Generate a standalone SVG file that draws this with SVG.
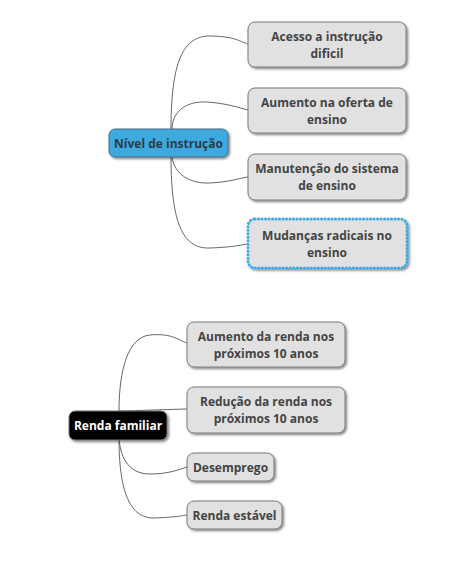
<svg xmlns="http://www.w3.org/2000/svg" width="457" height="581" viewBox="0 0 457 581">
<defs>
<filter id="sh" x="-10%" y="-20%" width="130%" height="160%">
<feDropShadow dx="1.5" dy="1.5" stdDeviation="1.2" flood-color="#000" flood-opacity="0.5"/>
</filter>
<style>
.n{fill:#e1e1e1;stroke:#7a7a7a;stroke-width:1;filter:url(#sh)}
.t{font-family:"Open Sans","Noto Sans","DejaVu Sans",sans-serif;font-weight:bold;font-size:12px;fill:#444;text-anchor:middle}
.c{fill:none;stroke:#666;stroke-width:1}
</style>
</defs>
<rect width="457" height="581" fill="#fff"/>
<g id="connectors">
<path class="c" d="M171,129 C171,55 186,35 212,36 S240,42 248,44"/>
<path class="c" d="M172,129 C172,112 186,101 206,102 S240,108 248,110"/>
<path class="c" d="M172,157 C174,174 190,184 210,183 S240,178 248,177"/>
<path class="c" d="M171,157 C171,228 185,249 210,248 S240,245 248,244"/>
<path class="c" d="M119,411 C119,370 128,337 150,335 S178,340 187,343"/>
<path class="c" d="M119,411 C130,411 150,410 187,409"/>
<path class="c" d="M119,439 C121,460 130,474 150,474 S180,469 187,467"/>
<path class="c" d="M119,439 C119,498 133,519 155,518 S180,516 187,515"/>
</g>
<g id="nivel">
<rect x="109" y="129" width="119" height="28" rx="6" fill="#3da9de" stroke="#4a6f85" stroke-width="1" filter="url(#sh)"/>
<text class="t" x="168.5" y="147.5" style="fill:#2f3b44">Nível de instrução</text>
</g>
<g id="acesso">
<rect class="n" x="248" y="22" width="158" height="45" rx="7"/>
<text class="t" x="327" y="41">Acesso a instrução</text>
<text class="t" x="327" y="58">dificil</text>
</g>
<g id="aumento-oferta">
<rect class="n" x="248" y="88" width="158" height="45" rx="7"/>
<text class="t" x="327" y="107">Aumento na oferta de</text>
<text class="t" x="327" y="124">ensino</text>
</g>
<g id="manutencao">
<rect class="n" x="248" y="154" width="158" height="46" rx="7"/>
<text class="t" x="327" y="173">Manutenção do sistema</text>
<text class="t" x="327" y="190">de ensino</text>
</g>
<g id="mudancas">
<rect x="248" y="219" width="159" height="49" rx="7" fill="#e1e1e1" stroke="#3ea9e6" stroke-width="3" stroke-dasharray="0.1 3.4" stroke-linecap="round" filter="url(#sh)"/>
<text class="t" x="327" y="240">Mudanças radicais no</text>
<text class="t" x="327" y="257">ensino</text>
</g>
<g id="renda">
<rect x="69" y="411" width="98" height="29" rx="6" fill="#000" stroke="#777" stroke-width="1" filter="url(#sh)"/>
<text class="t" x="118" y="430" style="fill:#fff">Renda familiar</text>
</g>
<g id="aumento-renda">
<rect class="n" x="187" y="322" width="158" height="45" rx="7"/>
<text class="t" x="266" y="341">Aumento da renda nos</text>
<text class="t" x="266" y="358">próximos 10 anos</text>
</g>
<g id="reducao">
<rect class="n" x="187" y="387" width="158" height="46" rx="7"/>
<text class="t" x="266" y="406">Redução da renda nos</text>
<text class="t" x="266" y="423">próximos 10 anos</text>
</g>
<g id="desemprego">
<rect class="n" x="187" y="453" width="87" height="28" rx="7"/>
<text class="t" x="230.5" y="471.5">Desemprego</text>
</g>
<g id="estavel">
<rect class="n" x="187" y="501" width="95" height="28" rx="7"/>
<text class="t" x="234.5" y="519.5">Renda estável</text>
</g>
</svg>
